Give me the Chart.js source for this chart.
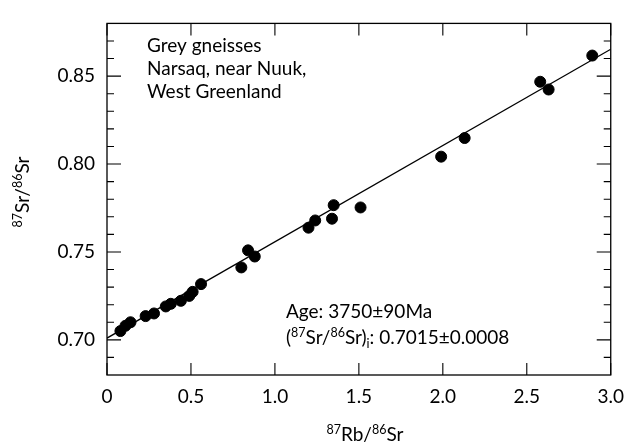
<!DOCTYPE html>
<html>
<head>
<meta charset="utf-8">
<script src="https://cdn.jsdelivr.net/npm/chart.js@4.4.1/dist/chart.umd.min.js"></script>
<style>
  html, body { margin: 0; padding: 0; background: #fff; }
</style>
</head>
<body>
<canvas id="isochron" width="634" height="443"></canvas>
<script>
// 87Rb/86Sr (x) and 87Sr/86Sr (y) of the samples
const rbSr = [0.08, 0.11, 0.14, 0.23, 0.28, 0.35, 0.38, 0.44, 0.49, 0.51, 0.56,
              0.80, 0.84, 0.88, 1.20, 1.24, 1.34, 1.35, 1.51, 1.99, 2.13, 2.58, 2.63, 2.89];
const srSr = [0.705, 0.708, 0.710, 0.7135, 0.715, 0.719, 0.7205, 0.7222, 0.725, 0.7273, 0.7317,
              0.7412, 0.7509, 0.7474, 0.7638, 0.7679, 0.7689, 0.7766, 0.7753, 0.8042, 0.8148, 0.8468, 0.8424, 0.8617];

// isochron end points
const lineX = [0, 3.0];
const lineY = [0.7010, 0.8653];

// axis ticks
const X_TICKS = [0, 0.5, 1.0, 1.5, 2.0, 2.5, 3.0];
const Y_TICKS = [0.70, 0.75, 0.80, 0.85];
const Y_MIN = 0.68, Y_MAX = 0.88;

const FONT = 'Lato, "Open Sans", sans-serif';
const BASE = 19, SMALL = 12.5;

// text with superscript ('^') and subscript ('_') pieces
function drawRich(ctx, parts, x, y, align) {
    const fontOf = p => `${p[1] ? SMALL : BASE}px ${FONT}`;
    let total = 0;
    parts.forEach(p => { ctx.font = fontOf(p); total += ctx.measureText(p[0]).width; });
    let cx = align === 'center' ? x - total / 2 : x;
    ctx.textAlign = 'left';
    ctx.textBaseline = 'alphabetic';
    parts.forEach(p => {
        ctx.font = fontOf(p);
        const dy = p[1] === '^' ? -7.5 : p[1] === '_' ? 4 : 0;
        ctx.fillText(p[0], cx, y + dy);
        cx += ctx.measureText(p[0]).width;
    });
}

// frame, inward ticks on all four sides, and the texts
const framePlugin = {
    id: 'frame',
    afterDraw(chart) {
        const { ctx, chartArea: a, scales } = chart;
        const xs = scales.x, ys = scales.y;
        ctx.save();
        ctx.strokeStyle = '#000';
        ctx.lineWidth = 1.3;
        ctx.strokeRect(a.left, a.top, a.right - a.left, a.bottom - a.top);

        ctx.lineWidth = 1.1;
        ctx.beginPath();
        X_TICKS.forEach(v => {
            const px = xs.getPixelForValue(v);
            ctx.moveTo(px, a.bottom); ctx.lineTo(px, a.bottom - 12);
            ctx.moveTo(px, a.top); ctx.lineTo(px, a.top + 12);
        });
        for (let i = 1; i < 20; i++) {
            const v = Y_MIN + i * 0.01;
            const py = ys.getPixelForValue(v);
            const len = i % 5 === 2 ? 14 : 7;
            ctx.moveTo(a.left, py); ctx.lineTo(a.left + len, py);
            ctx.moveTo(a.right, py); ctx.lineTo(a.right - len, py);
        }
        ctx.stroke();

        ctx.fillStyle = '#000';
        // sample description
        ctx.font = `${BASE}px ${FONT}`;
        ctx.textAlign = 'left';
        ctx.textBaseline = 'alphabetic';
        ctx.fillText('Grey gneisses', 147, 52);
        ctx.fillText('Narsaq, near Nuuk,', 147, 75);
        ctx.fillText('West Greenland', 147, 98);

        // age result
        drawRich(ctx, [['Age: 3750\u00b190Ma', '']], 286, 318, 'left');
        drawRich(ctx, [['(', ''], ['87', '^'], ['Sr/', ''], ['86', '^'], ['Sr)', ''], ['i', '_'],
                       [': 0.7015\u00b10.0008', '']], 286, 344, 'left');

        // axis titles
        drawRich(ctx, [['87', '^'], ['Rb/', ''], ['86', '^'], ['Sr', '']], 365, 441, 'center');
        ctx.translate(29, 192);
        ctx.rotate(-Math.PI / 2);
        drawRich(ctx, [['87', '^'], ['Sr/', ''], ['86', '^'], ['Sr', '']], 0, 0, 'center');
        ctx.restore();
    }
};

const points = rbSr.map((x, i) => ({ x, y: srSr[i] }));
const isochron = lineX.map((x, i) => ({ x, y: lineY[i] }));

new Chart(document.getElementById('isochron'), {
    type: 'scatter',
    data: {
        datasets: [
            { data: isochron, showLine: true, borderColor: '#000', borderWidth: 1.3, pointRadius: 0, order: 2 },
            { data: points, backgroundColor: '#000', borderColor: '#000', pointRadius: 5.5, order: 1 }
        ]
    },
    options: {
        responsive: false,
        animation: false,
        layout: { padding: { left: 0, right: 11, top: 10, bottom: 0 } },
        plugins: { legend: { display: false }, tooltip: { enabled: false } },
        scales: {
            x: {
                type: 'linear', min: 0, max: 3,
                grid: { display: false, drawTicks: false, tickLength: 0 },
                border: { display: false },
                afterBuildTicks: s => { s.ticks = X_TICKS.map(v => ({ value: v })); },
                afterFit: s => { s.height = 68; },
                ticks: {
                    padding: 10, color: '#000', maxRotation: 0,
                    font: { family: FONT, size: BASE },
                    callback: v => v === 0 ? '0' : v.toFixed(1)
                }
            },
            y: {
                type: 'linear', min: Y_MIN, max: Y_MAX,
                grid: { display: false, drawTicks: false, tickLength: 0 },
                border: { display: false },
                afterBuildTicks: s => { s.ticks = Y_TICKS.map(v => ({ value: v })); },
                afterFit: s => { s.width = 107; },
                ticks: {
                    padding: 12, color: '#000',
                    font: { family: FONT, size: BASE },
                    callback: v => v.toFixed(2)
                }
            }
        }
    },
    plugins: [framePlugin]
});
</script>
</body>
</html>
